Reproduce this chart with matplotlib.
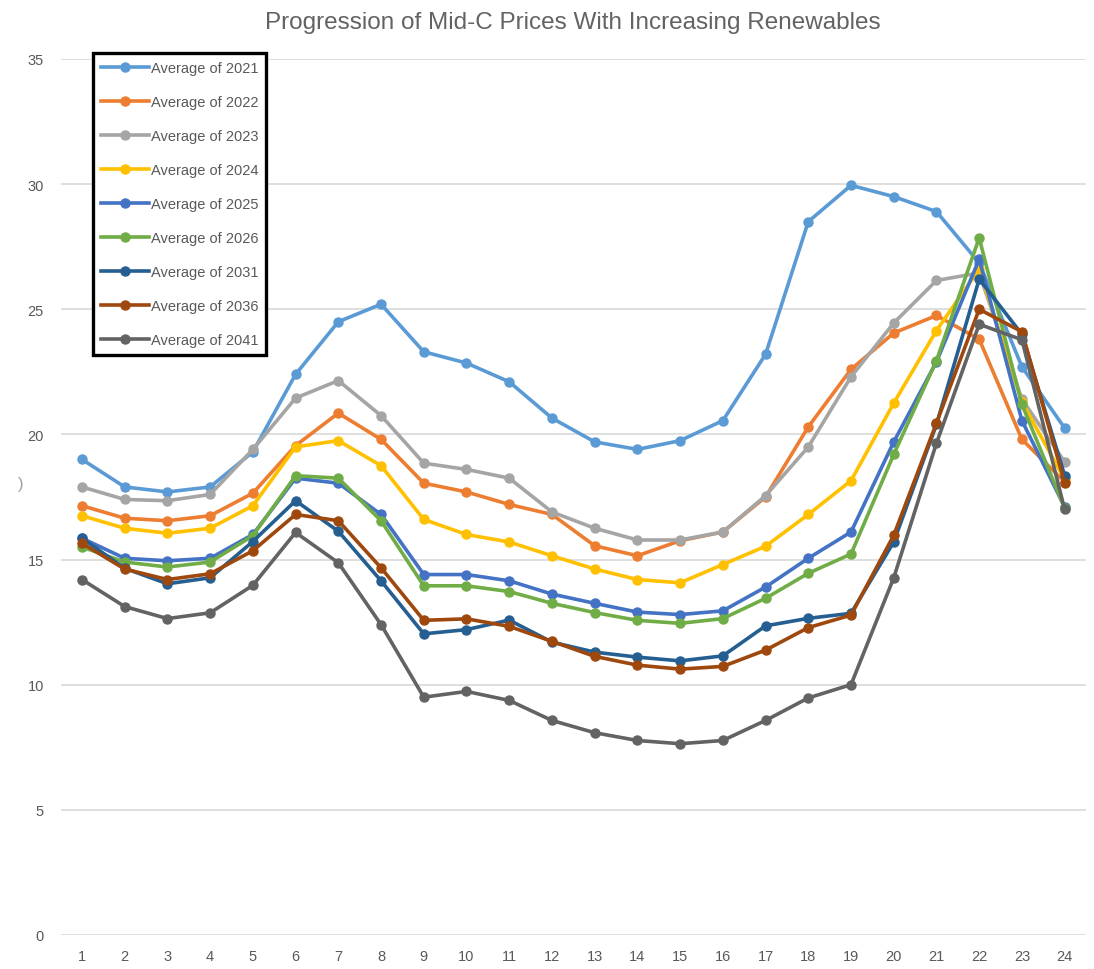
import matplotlib
matplotlib.use("Agg")
import matplotlib.pyplot as plt

plt.rcParams["font.family"] = ["Liberation Sans Narrow", "Liberation Sans", "DejaVu Sans"]

hours = list(range(1, 25))

avg_2021 = [19.0, 17.9, 17.7, 17.9, 19.3, 22.4, 24.5, 25.2, 23.3, 22.85, 22.1, 20.65,
            19.7, 19.4, 19.75, 20.55, 23.2, 28.5, 29.95, 29.5, 28.9, 26.85, 22.7, 20.25]
avg_2022 = [17.15, 16.65, 16.55, 16.75, 17.65, 19.55, 20.85, 19.8, 18.05, 17.7, 17.2, 16.8,
            15.55, 15.15, 15.75, 16.1, 17.5, 20.3, 22.6, 24.05, 24.75, 23.8, 19.8, 18.1]
avg_2023 = [17.9, 17.4, 17.35, 17.6, 19.4, 21.45, 22.15, 20.75, 18.85, 18.6, 18.25, 16.9,
            16.25, 15.78, 15.78, 16.1, 17.55, 19.5, 22.3, 24.45, 26.15, 26.45, 21.4, 18.9]
avg_2024 = [16.75, 16.25, 16.05, 16.25, 17.15, 19.5, 19.75, 18.75, 16.6, 16.0, 15.7, 15.15,
            14.62, 14.2, 14.07, 14.8, 15.53, 16.8, 18.15, 21.25, 24.15, 26.6, 21.3, 18.2]
avg_2025 = [15.85, 15.05, 14.95, 15.05, 16.0, 18.25, 18.05, 16.8, 14.4, 14.4, 14.15, 13.62,
            13.25, 12.9, 12.8, 12.95, 13.9, 15.05, 16.1, 19.7, 22.9, 27.0, 20.55, 17.1]
avg_2026 = [15.5, 14.9, 14.7, 14.9, 15.95, 18.35, 18.25, 16.55, 13.95, 13.95, 13.72, 13.25,
            12.88, 12.57, 12.45, 12.64, 13.45, 14.45, 15.22, 19.2, 22.95, 27.85, 21.2, 17.05]
avg_2031 = [15.85, 14.65, 14.03, 14.27, 15.72, 17.35, 16.13, 14.15, 12.03, 12.2, 12.58, 11.7,
            11.3, 11.1, 10.95, 11.15, 12.35, 12.65, 12.85, 15.7, 20.4, 26.2, 24.0, 18.35]
avg_2036 = [15.65, 14.62, 14.2, 14.43, 15.35, 16.8, 16.55, 14.67, 12.57, 12.63, 12.33, 11.73,
            11.13, 10.78, 10.62, 10.73, 11.38, 12.28, 12.78, 15.97, 20.45, 25.0, 24.1, 18.07]
avg_2041 = [14.2, 13.12, 12.64, 12.87, 13.97, 16.08, 14.87, 12.4, 9.5, 9.73, 9.37, 8.57,
            8.08, 7.77, 7.64, 7.77, 8.57, 9.47, 10.0, 14.27, 19.65, 24.4, 23.78, 17.0]

series_names = ["Average of 2021", "Average of 2022", "Average of 2023",
                "Average of 2024", "Average of 2025", "Average of 2026",
                "Average of 2031", "Average of 2036", "Average of 2041"]
series_values = [avg_2021, avg_2022, avg_2023, avg_2024, avg_2025, avg_2026,
                 avg_2031, avg_2036, avg_2041]
colors = ["#5B9BD5", "#ED7D31", "#A5A5A5", "#FFC000", "#4472C4",
          "#70AD47", "#255E91", "#9E480E", "#636363"]

text_gray = "#595959"

fig = plt.figure(figsize=(10.94, 9.70), dpi=100)
ax = fig.add_axes([0.0554, 0.0351, 0.9373, 0.9031])

for name, vals, c in zip(series_names, series_values, colors):
    ax.plot(hours, vals, color=c, lw=2.6, marker="o", ms=6.5,
            label=name, solid_joinstyle="round")

ax.set_xlim(0.5, 24.5)
ax.set_ylim(0, 35)
ax.set_xticks(hours)
ax.set_yticks(range(0, 36, 5))
ax.grid(axis="y", color="#D9D9D9", lw=1.2)
ax.set_axisbelow(True)
for s in ax.spines.values():
    s.set_visible(False)
ax.tick_params(length=0, colors=text_gray, labelsize=10.5)
ax.tick_params(axis="x", pad=10)
ax.tick_params(axis="y", pad=12)

ax.set_title("Progression of Mid-C Prices With Increasing Renewables",
             fontsize=17.5, color="#636363", pad=22)

leg = ax.legend(loc="upper left", bbox_to_anchor=(0.085, 0.944),
                bbox_transform=fig.transFigure, borderaxespad=0,
                fancybox=False, framealpha=1, fontsize=10.5,
                handlelength=3.3, handletextpad=0.1, labelspacing=1.37,
                borderpad=0.55)
leg.get_frame().set_edgecolor("black")
leg.get_frame().set_linewidth(2.4)
for t in leg.get_texts():
    t.set_color(text_gray)

# partly hidden axis title at the left edge
fig.text(0.016, 0.5, ")", color="#A0A0A0", fontsize=12, va="center")

fig.savefig("out.png", dpi=100)
